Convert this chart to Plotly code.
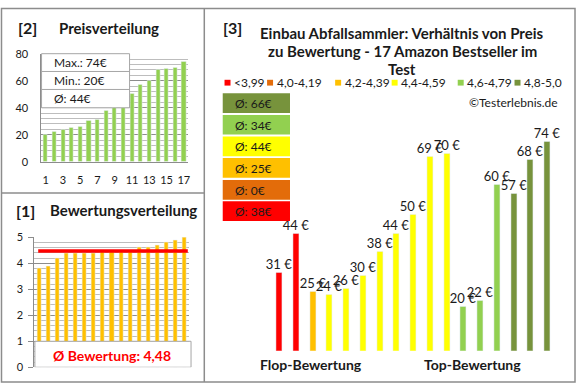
import plotly.graph_objects as go

# ---------------- data ----------------
ratings = [3.8, 3.9, 4.2, 4.4, 4.4, 4.4, 4.4, 4.5, 4.5, 4.5, 4.5, 4.6, 4.6, 4.7, 4.8, 4.9, 5.0]
prices = [31, 44, 25, 24, 26, 30, 38, 44, 50, 69, 70, 20, 22, 60, 57, 68, 74]
products = list(range(1, 18))
price_sorted = sorted(prices)
group_labels = ["<3,99", "4,0-4,19", "4,2-4,39", "4,4-4,59", "4,6-4,79", "4,8-5,0"]
group_bounds = [(0, 3.995), (3.995, 4.195), (4.195, 4.395), (4.395, 4.595), (4.595, 4.795), (4.795, 5.01)]
group_colors = ["#FF0000", "#E36C0A", "#FFC000", "#FFFF00", "#92D050", "#77933C"]
x_tick_labels = [1, 3, 5, 7, 9, 11, 13, 15, 17]

FONT = "Lato"
W, H = 580, 390


def px(x):
    return x / W


def py(y):
    return 1 - y / H


def group_of(r):
    for i, (lo, hi) in enumerate(group_bounds):
        if lo <= r < hi:
            return i
    return len(group_bounds) - 1


bar_colors = [group_colors[group_of(r)] for r in ratings]
group_avgs = []
for i in range(len(group_labels)):
    vals = [p for p, r in zip(prices, ratings) if group_of(r) == i]
    group_avgs.append(int(sum(vals) / len(vals) + 0.5) if vals else 0)

mean_rating = sum(ratings) / len(ratings)

fig = go.Figure()

# ---- panel [2] price distribution ----
fig.add_trace(go.Bar(x=products, y=price_sorted, marker_color="#92D050", width=0.48,
                     xaxis="x", yaxis="y", showlegend=False, hoverinfo="skip"))
# ---- panel [1] rating distribution ----
fig.add_trace(go.Bar(x=products, y=ratings, marker_color="#FFC000", width=0.45,
                     xaxis="x2", yaxis="y2", showlegend=False, hoverinfo="skip"))
# ---- panel [3] price vs rating ----
fig.add_trace(go.Bar(x=products, y=prices, marker_color=bar_colors, width=0.36,
                     texttemplate="%{y} €", textposition="outside", constraintext="none",
                     textfont=dict(family=FONT, size=13, color="#1a1a1a"),
                     xaxis="x3", yaxis="y3", showlegend=False, hoverinfo="skip"))

GRID_MAJ = "#8c8c8c"
GRID_MIN = "#bdbdbd"
tickfont = dict(family=FONT, size=11, color="#1a1a1a")
CAT3 = 16.82  # px per category in panel [3]

fig.update_layout(
    width=W, height=H, margin=dict(l=0, r=0, t=0, b=0),
    paper_bgcolor="white", plot_bgcolor="rgba(0,0,0,0)",
    bargap=0,
    xaxis=dict(domain=[px(41.5), px(188.8)], range=[0.5, 17.5], tickvals=x_tick_labels,
               showgrid=False, zeroline=False, showline=True, linecolor=GRID_MAJ,
               tickfont=tickfont, ticks="", ticklabelstandoff=8),
    yaxis=dict(domain=[py(160), py(48.3)], range=[0, 80], dtick=20,
               showgrid=True, gridcolor=GRID_MAJ, zeroline=False, showline=True, linecolor=GRID_MAJ,
               minor=dict(dtick=4, showgrid=True, gridcolor=GRID_MIN),
               tickfont=tickfont, ticks="", ticklabelstandoff=10),
    xaxis2=dict(domain=[px(34.5), px(190)], range=[0.5, 17.5], anchor="y2",
                showticklabels=False, showgrid=False, zeroline=False, showline=False),
    yaxis2=dict(domain=[py(372.7), py(238.3)], range=[0, 5], dtick=1, anchor="x2",
                showgrid=True, gridcolor=GRID_MAJ, zeroline=False, showline=True, linecolor=GRID_MAJ,
                minor=dict(dtick=0.2, showgrid=True, gridcolor=GRID_MIN),
                ticks="outside", ticklen=5, tickcolor=GRID_MAJ,
                tickfont=tickfont, ticklabelstandoff=3),
    xaxis3=dict(domain=[px(271.9 - CAT3), px(557.7 + CAT3)], range=[-0.5, 18.5], anchor="y3", visible=False),
    yaxis3=dict(domain=[py(355.7), py(101.1)], range=[5.6, 86], anchor="x3", visible=False),
)

shapes = []
annotations = []
FRAME = "#8c8c8c"
# frames
shapes.append(dict(type="rect", xref="paper", yref="paper", x0=px(1.5), x1=px(577), y0=py(388), y1=py(1.5),
                   line=dict(color=FRAME, width=1.5)))
shapes.append(dict(type="line", xref="paper", yref="paper", x0=px(205), x1=px(205), y0=py(388), y1=py(1.5),
                   line=dict(color=FRAME, width=1.5)))
shapes.append(dict(type="line", xref="paper", yref="paper", x0=px(1.5), x1=px(205), y0=py(192.5), y1=py(192.5),
                   line=dict(color=FRAME, width=1.5)))

# panel [2] info box
BOXLINE = "#a6a6a6"
shapes.append(dict(type="rect", xref="paper", yref="paper", x0=px(41.7), x1=px(130), y0=py(104.3), y1=py(48.3),
                   fillcolor="white", line=dict(color=BOXLINE, width=1), layer="above"))
for yy in (66.7, 85.3):
    shapes.append(dict(type="line", xref="paper", yref="paper", x0=px(41.7), x1=px(130), y0=py(yy), y1=py(yy),
                       line=dict(color=BOXLINE, width=1), layer="above"))
info_texts = [f"Max.: {max(prices)}€", f"Min.: {min(prices)}€", f"Ø: {int(sum(prices) / len(prices) + 0.5)}€"]
for t, yy in zip(info_texts, (57.5, 76, 94.8)):
    annotations.append(dict(xref="paper", yref="paper", x=px(52), y=py(yy), text=t, showarrow=False,
                            xanchor="left", yanchor="middle", font=dict(family=FONT, size=12, color="#1a1a1a")))

# panel [1] mean line and box
shapes.append(dict(type="line", xref="x2", yref="y2", x0=0.92, x1=17.33, y0=mean_rating, y1=mean_rating,
                   line=dict(color="#FF0000", width=3.5), layer="above"))
shapes.append(dict(type="rect", xref="paper", yref="y2", x0=px(35), x1=px(191.7), y0=0, y1=1,
                   fillcolor="white", line=dict(color=BOXLINE, width=1), layer="above"))
annotations.append(dict(xref="paper", yref="paper", x=px(112), y=py(360),
                        text=f"Ø Bewertung: {mean_rating:.2f}".replace(".", ","), showarrow=False,
                        xanchor="center", yanchor="middle", font=dict(family=FONT, size=14, color="#FF0000", weight="bold")))

# panel titles
TBOLD = dict(family=FONT, size=15, color="#1a1a1a", weight="bold")
annotations.append(dict(xref="paper", yref="paper", x=px(16), y=py(21.5), text="[2]", showarrow=False,
                        xanchor="left", yanchor="middle", font=dict(family=FONT, size=16, color="#1a1a1a", weight="bold")))
annotations.append(dict(xref="paper", yref="paper", x=px(57), y=py(21.5), text="Preisverteilung", showarrow=False,
                        xanchor="left", yanchor="middle", font=TBOLD))
annotations.append(dict(xref="paper", yref="paper", x=px(14), y=py(210.5), text="[1]", showarrow=False,
                        xanchor="left", yanchor="middle", font=dict(family=FONT, size=16, color="#1a1a1a", weight="bold")))
annotations.append(dict(xref="paper", yref="paper", x=px(48), y=py(210.5), text="Bewertungsverteilung", showarrow=False,
                        xanchor="left", yanchor="middle", font=TBOLD))
annotations.append(dict(xref="paper", yref="paper", x=px(222), y=py(21.5), text="[3]", showarrow=False,
                        xanchor="left", yanchor="middle", font=dict(family=FONT, size=16, color="#1a1a1a", weight="bold")))
title_lines = ["Einbau Abfallsammler: Verhältnis von Preis", "zu Bewertung - 17 Amazon Bestseller im", "Test"]
for t, yy in zip(title_lines, (26.5, 45.5, 64.5)):
    annotations.append(dict(xref="paper", yref="paper", x=px(403.5), y=py(yy), text=t, showarrow=False,
                            xanchor="center", yanchor="middle", font=TBOLD))

# manual legend
sq_x = [228.3, 271, 339.3, 396, 462.3, 519.3]
for lab, col, sx in zip(group_labels, group_colors, sq_x):
    shapes.append(dict(type="rect", xref="paper", yref="paper", x0=px(sx - 3), x1=px(sx + 3),
                       y0=py(81.3), y1=py(75.3), fillcolor=col, line=dict(width=0)))
    annotations.append(dict(xref="paper", yref="paper", x=px(sx + 4.5), y=py(78.5), text=lab, showarrow=False,
                            xanchor="left", yanchor="middle", font=dict(family=FONT, size=12, color="#1a1a1a")))

annotations.append(dict(xref="paper", yref="paper", x=px(562), y=py(99), text="©Testerlebnis.de", showarrow=False,
                        xanchor="right", yanchor="middle", font=dict(family=FONT, size=12, color="#1a1a1a")))

# average boxes (top: best group)
box_tops = [89.3, 111.7, 134, 156.3, 179, 201]
for i, top in zip(reversed(range(len(group_labels))), box_tops):
    shapes.append(dict(type="rect", xref="paper", yref="paper", x0=px(223.5), x1=px(291), y0=py(top + 20.3), y1=py(top),
                       fillcolor=group_colors[i], line=dict(width=0), layer="above"))
    annotations.append(dict(xref="paper", yref="paper", x=px(233.5), y=py(top + 10.5), text=f"Ø: {group_avgs[i]}€",
                            showarrow=False, xanchor="left", yanchor="middle",
                            font=dict(family=FONT, size=12, color="#1a1a1a")))

BOT = dict(family=FONT, size=14, color="#1a1a1a", weight="bold")
annotations.append(dict(xref="paper", yref="paper", x=px(312), y=py(369.5), text="Flop-Bewertung", showarrow=False,
                        xanchor="center", yanchor="middle", font=BOT))
annotations.append(dict(xref="paper", yref="paper", x=px(474), y=py(369.5), text="Top-Bewertung", showarrow=False,
                        xanchor="center", yanchor="middle", font=BOT))

fig.update_layout(shapes=shapes, annotations=annotations)
fig.write_html("out.html", config={"displayModeBar": False},
               post_script="document.body.style.margin='0';document.body.style.overflow='hidden';")
